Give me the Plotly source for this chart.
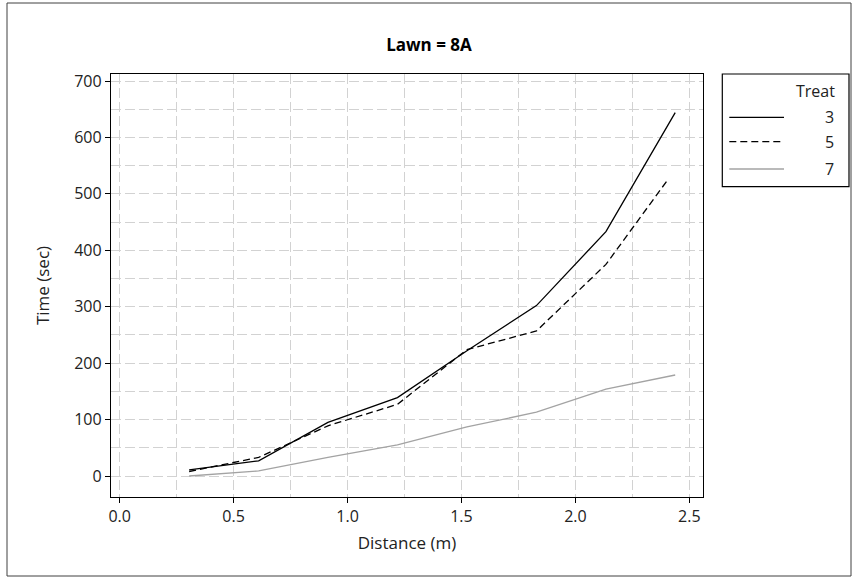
import plotly.graph_objects as go

# ---- data ----
treat_labels = ["3", "5", "7"]
dist_3 = [0.305, 0.610, 0.914, 1.219, 1.524, 1.829, 2.134, 2.438]
time_3 = [11, 27, 95, 139, 222, 302, 433, 644]
dist_5 = [0.305, 0.610, 0.914, 1.219, 1.524, 1.829, 2.134, 2.400]
time_5 = [8, 33, 89, 127, 224, 257, 375, 522]
dist_7 = [0.305, 0.610, 0.914, 1.219, 1.524, 1.829, 2.134, 2.438]
time_7 = [0, 9, 33, 55, 87, 113, 154, 179]
x_ticks = [0.0, 0.5, 1.0, 1.5, 2.0, 2.5]
y_ticks = [0, 100, 200, 300, 400, 500, 600, 700]

# ---- layout geometry ----
W, H = 858, 578
L, R, T, B = 111, 155, 74, 81
PW, PH = W - L - R, H - T - B

def px(x):
    return (x - L) / PW

def py(y):
    return (H - B - y) / PH

FONT = "Open Sans"
styles = [
    dict(color="black", width=1.3, dash="solid"),
    dict(color="black", width=1.3, dash="7px,4px"),
    dict(color="#a3a3a3", width=1.3, dash="solid"),
]
series = [(dist_3, time_3), (dist_5, time_5), (dist_7, time_7)]

fig = go.Figure()
for (xs, ys), lab, st in zip(series, treat_labels, styles):
    fig.add_trace(go.Scatter(x=xs, y=ys, mode="lines", name=lab,
                             line=st, showlegend=False))

grid = dict(gridcolor="#d2d2d2", griddash="10px,4px", gridwidth=1.2)
axis_common = dict(showline=True, linecolor="black", linewidth=1.3, mirror=True,
                   ticks="outside", ticklen=5, tickcolor="black", tickwidth=1,
                   showgrid=True, zeroline=False,
                   tickfont=dict(family=FONT, size=16, color="#222"),
                   **grid)

fig.update_layout(
    width=W, height=H,
    margin=dict(l=L, r=R, t=T, b=B, pad=0),
    paper_bgcolor="white", plot_bgcolor="white",
    title=dict(text="<b>Lawn = 8A</b>", x=0.5, xref="container", xanchor="center",
               y=1 - 45 / H, yref="container", yanchor="middle",
               font=dict(family=FONT, size=17, color="black")),
    xaxis=dict(range=[-0.038, 2.56], tickvals=x_ticks, tickformat=".1f",
               title=dict(text="Distance (m)", standoff=10,
                          font=dict(family=FONT, size=17, color="#222")),
               minor=dict(dtick=0.25, tick0=0, showgrid=True, ticks="", **grid),
               **axis_common),
    yaxis=dict(range=[-37.2, 712.4], tickvals=y_ticks,
               title=dict(text="Time (sec)", standoff=20,
                          font=dict(family=FONT, size=17, color="#222")),
               minor=dict(dtick=50, tick0=0, showgrid=True, ticks="", **grid),
               **axis_common),
)

shapes = []
# outer frame
shapes.append(dict(type="rect", xref="paper", yref="paper",
                   x0=px(7), x1=px(851), y0=py(576), y1=py(3),
                   line=dict(color="#404040", width=1), layer="below"))
# legend box
shapes.append(dict(type="rect", xref="paper", yref="paper",
                   x0=px(722.3), x1=px(849), y0=py(186.7), y1=py(74),
                   line=dict(color="black", width=1.2)))
leg_y = [117.3, 141.7, 169]
for st, yy in zip(styles, leg_y):
    shapes.append(dict(type="line", xref="paper", yref="paper",
                       x0=px(729.3), x1=px(784), y0=py(yy), y1=py(yy),
                       line=st))
fig.update_layout(shapes=shapes)

ann = [dict(text="Treat", xref="paper", yref="paper", x=px(837), y=py(90.7),
            xanchor="right", yanchor="middle", showarrow=False,
            font=dict(family=FONT, size=16, color="#222"))]
for lab, yy in zip(treat_labels, leg_y):
    ann.append(dict(text=lab, xref="paper", yref="paper", x=px(836), y=py(yy),
                    xanchor="right", yanchor="middle", showarrow=False,
                    font=dict(family=FONT, size=16, color="#222")))
fig.update_layout(annotations=ann)

fig.write_html("out.html")
